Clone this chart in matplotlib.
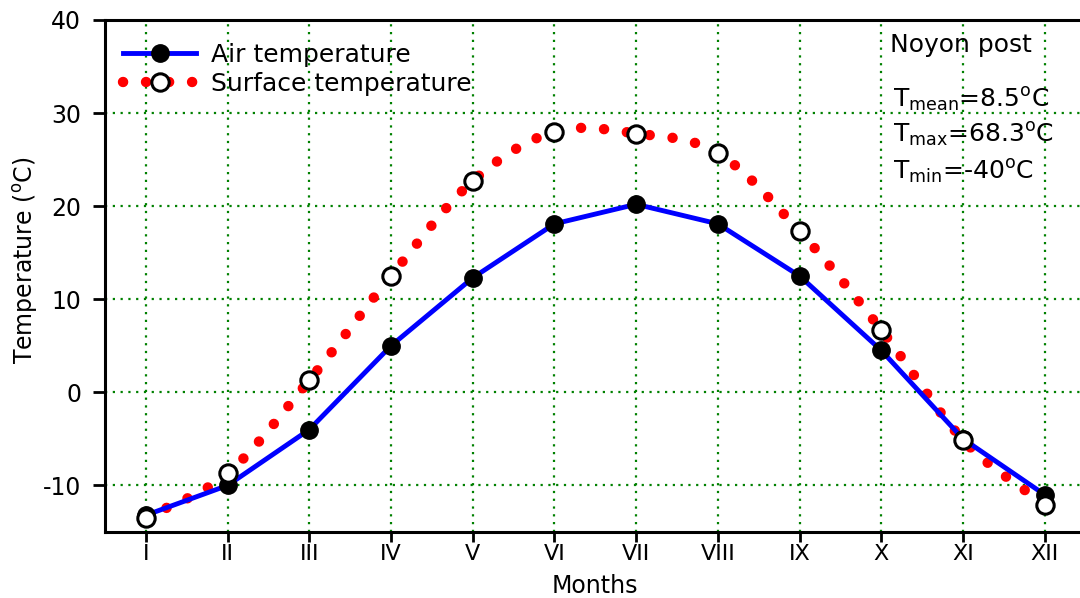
import matplotlib.pyplot as plt
import numpy as np

plt.rcParams['font.family'] = ['DejaVu Sans']
plt.rcParams['mathtext.fontset'] = 'dejavusans'
plt.rcParams['axes.unicode_minus'] = False

months = ['I', 'II', 'III', 'IV', 'V', 'VI', 'VII', 'VIII', 'IX', 'X', 'XI', 'XII']
air_temp = [-13.2, -10.0, -4.0, 5.0, 12.3, 18.1, 20.2, 18.1, 12.5, 4.5, -5.0, -11.0]
surface_temp = [-13.5, -8.7, 1.3, 12.5, 22.7, 28.0, 27.8, 25.7, 17.3, 6.7, -5.1, -12.1]

x = np.arange(1, len(months) + 1)


def smooth(xs, ys, n=30):
    # catmull-rom curve through the points, only for drawing the dotted line
    xs = np.asarray(xs, float)
    ys = np.asarray(ys, float)
    px = np.concatenate([[2 * xs[0] - xs[1]], xs, [2 * xs[-1] - xs[-2]]])
    py = np.concatenate([[2 * ys[0] - ys[1]], ys, [2 * ys[-1] - ys[-2]]])
    ox, oy = [], []
    t = np.linspace(0, 1, n, endpoint=False)
    for i in range(1, len(px) - 2):
        for p, out in ((px, ox), (py, oy)):
            p0, p1, p2, p3 = p[i - 1], p[i], p[i + 1], p[i + 2]
            out.extend(0.5 * (2 * p1 + (-p0 + p2) * t + (2 * p0 - 5 * p1 + 4 * p2 - p3) * t ** 2
                              + (-p0 + 3 * p1 - 3 * p2 + p3) * t ** 3))
    ox.append(xs[-1])
    oy.append(ys[-1])
    return np.array(ox), np.array(oy)


fig = plt.figure(figsize=(10.8, 5.98), dpi=100)
ax = fig.add_axes([0.0972, 0.1104, 0.908, 0.8562])

ax.grid(True, color='#008000', linestyle=(0, (1, 2.5)), linewidth=1.6)
ax.set_axisbelow(True)

dot_style = dict(color='red', linewidth=7.5, linestyle=(0, (0.01, 2.2)), dash_capstyle='round')
sx, sy = smooth(x, surface_temp)
ax.plot(sx, sy, zorder=3, **dot_style)
ax.plot(x, surface_temp, linestyle='none', marker='o', markersize=12.5,
        markerfacecolor='white', markeredgecolor='black', markeredgewidth=2.2, zorder=5)
ax.plot(x, air_temp, color='blue', linewidth=3.5, marker='o', markersize=12.5,
        markerfacecolor='black', markeredgecolor='black', zorder=4)

# legend handles
h_air, = ax.plot([], [], color='blue', linewidth=3.5, marker='o', markersize=12.5,
                 markerfacecolor='black', markeredgecolor='black')
h_sur, = ax.plot([], [], marker='o', markersize=12.5, markerfacecolor='white',
                 markeredgecolor='black', markeredgewidth=2.2, **dot_style)
ax.legend([h_air, h_sur], ['Air temperature', 'Surface temperature'], loc='upper left',
          frameon=False, fontsize=18, handlelength=2.95, handletextpad=0.6,
          labelspacing=0.2, borderpad=0, borderaxespad=0, bbox_to_anchor=(0.018, 0.956))

ax.set_xlim(0.5, 12.5)
ax.set_ylim(-15, 40)
ax.set_xticks(x)
ax.set_xticklabels(months)
ax.set_yticks([-10, 0, 10, 20, 30, 40])
ax.tick_params(axis='both', direction='out', width=2, labelsize=17)
ax.tick_params(axis='x', length=7, pad=2, labelsize=16)
ax.tick_params(axis='y', length=9, pad=8)
for sp in ax.spines.values():
    sp.set_linewidth(2.2)

ax.set_xlabel('Months', fontsize=17)
ax.xaxis.label.set_va('bottom')
ax.xaxis.set_label_coords(0.5, -0.129)
ax.set_ylabel(r'Temperature ($^{\mathrm{o}}$C)', fontsize=17)
ax.yaxis.set_label_coords(-0.066, 0.531)

ax.text(0.801, 0.951, 'Noyon post', transform=ax.transAxes, fontsize=18, va='center')
ax.text(0.804, 0.844, r'T$_{\mathrm{mean}}$=8.5$^{\mathrm{o}}$C', transform=ax.transAxes,
        fontsize=18, va='center')
ax.text(0.804, 0.775, r'T$_{\mathrm{max}}$=68.3$^{\mathrm{o}}$C', transform=ax.transAxes,
        fontsize=18, va='center')
ax.text(0.804, 0.703, r'T$_{\mathrm{min}}$=-40$^{\mathrm{o}}$C', transform=ax.transAxes,
        fontsize=18, va='center')

fig.savefig('out.png', dpi=100)
